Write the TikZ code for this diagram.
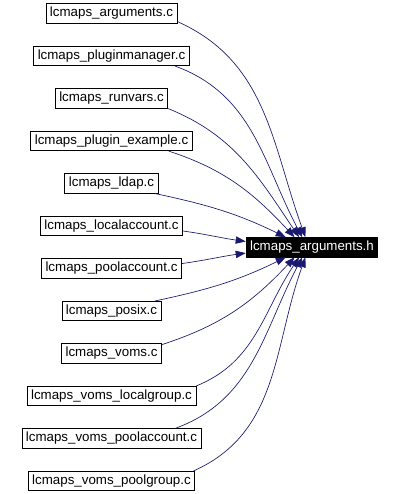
\documentclass[tikz,border=0pt]{standalone}
\usepackage{fontspec}
\setmainfont{Liberation Sans}
\usepackage{tikz}
\usetikzlibrary{arrows.meta}
\definecolor{edgeblue}{RGB}{25, 25, 112}

\begin{document}
\begin{tikzpicture}[
  x=0.75pt, y=0.75pt,
  filebox/.style={draw, line width=0.6pt, fill=white, inner xsep=3pt, inner ysep=0pt, minimum height=14.5pt, font=\fontsize{10}{12}\selectfont},
  headbox/.style={filebox, fill=black, text=white},
  incl/.style={draw=edgeblue, line width=0.5pt, -{Triangle[length=7.5pt, width=5.5pt]}}
]
  \useasboundingbox (0,0) rectangle (401,494);

  % including files
  \node[filebox] (argsc)           at (111.5, 480.5) {lcmaps\_arguments.c};
  \node[filebox] (pluginmanager)   at (111.5, 438)   {lcmaps\_pluginmanager.c};
  \node[filebox] (runvars)         at (111.5, 395.5) {lcmaps\_runvars.c};
  \node[filebox] (pluginexample)   at (111.5, 353)   {lcmaps\_plugin\_example.c};
  \node[filebox] (ldap)            at (111.5, 310.5) {lcmaps\_ldap.c};
  \node[filebox] (localaccount)    at (111.5, 268)   {lcmaps\_localaccount.c};
  \node[filebox] (poolaccount)     at (111.5, 225.5) {lcmaps\_poolaccount.c};
  \node[filebox] (posix)           at (111.5, 183)   {lcmaps\_posix.c};
  \node[filebox] (voms)            at (111.5, 140.5) {lcmaps\_voms.c};
  \node[filebox] (vomslocalgroup)  at (111.5, 98)    {lcmaps\_voms\_localgroup.c};
  \node[filebox] (vomspoolaccount) at (111.5, 55.5)  {lcmaps\_voms\_poolaccount.c};
  \node[filebox] (vomspoolgroup)   at (111.5, 13)    {lcmaps\_voms\_poolgroup.c};

  % the header
  \node[headbox] (argsh) at (312, 246.75) {lcmaps\_arguments.h};

  % include edges
  \draw[incl] (argsc.-7)              to[out=-24, in=110] (argsh.123);
  \draw[incl] (pluginmanager.-9)      to[out=-20, in=118] (argsh.134);
  \draw[incl] (runvars.south east)    to[out=-22, in=124] (argsh.142);
  \draw[incl] (pluginexample.-10)     to[out=-18, in=133] (argsh.150);
  \draw[incl] (ldap.-13)              to[out=-12, in=154] (argsh.159);
  \draw[incl] (localaccount.-4)       to[out=-8,  in=172] (argsh.175);
  \draw[incl] (poolaccount.4)         to[out=8,   in=-172] (argsh.-175);
  \draw[incl] (posix.13)              to[out=12,  in=-154] (argsh.-159);
  \draw[incl] (voms.10)               to[out=18,  in=-133] (argsh.-150);
  \draw[incl] (vomslocalgroup.north east) to[out=22, in=-124] (argsh.-142);
  \draw[incl] (vomspoolaccount.9)     to[out=20,  in=-118] (argsh.-134);
  \draw[incl] (vomspoolgroup.7)       to[out=24,  in=-110] (argsh.-123);
\end{tikzpicture}
\end{document}
